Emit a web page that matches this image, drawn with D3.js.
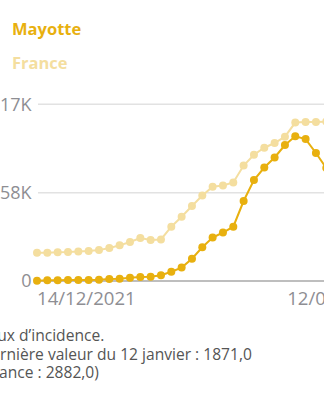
<!DOCTYPE html>
<html>
<head>
<meta charset="utf-8">
<script src="https://cdn.jsdelivr.net/npm/d3@7"></script>
<style>
  html, body { margin: 0; padding: 0; background: #fff; overflow: hidden; }
  svg { display: block; font-family: "Open Sans", "Noto Sans", sans-serif; }
</style>
</head>
<body>
<svg id="chart" width="324" height="400"></svg>
<script>
// ---- data ----
const dates = [
  "2021-12-14","2021-12-15","2021-12-16","2021-12-17","2021-12-18","2021-12-19","2021-12-20",
  "2021-12-21","2021-12-22","2021-12-23","2021-12-24","2021-12-25","2021-12-26","2021-12-27",
  "2021-12-28","2021-12-29","2021-12-30","2021-12-31","2022-01-01","2022-01-02","2022-01-03",
  "2022-01-04","2022-01-05","2022-01-06","2022-01-07","2022-01-08","2022-01-09","2022-01-10",
  "2022-01-11","2022-01-12"
];
const mayotte = [5, 13, 13, 18, 18, 18, 23, 36, 41, 59, 72, 77, 102, 167, 240, 400, 606, 780, 870, 974,
  1435, 1812, 2036, 2216, 2440, 2596, 2547, 2296, 2027, 1871];
const france = [508, 508, 515, 520, 530, 538, 555, 590, 640, 700, 770, 735, 745, 974, 1154, 1346, 1534,
  1692, 1713, 1767, 2072, 2266, 2391, 2476, 2589, 2843, 2852, 2852, 2860, 2882];
const seriesNames = ["Mayotte", "France"];
const yTickValues = [0, 1585.1, 3170.2];
const yTickLabels = ["0", "1,58K", "3,17K"];
const xTickDates = ["2021-12-14", "2022-01-12"];
const xTickLabels = ["14/12/2021", "12/01/2022"];
const captionLines = ["Taux d’incidence.", "Dernière valeur du 12 janvier : 1871,0", "(France : 2882,0)"];

// ---- setup ----
const colors = { Mayotte: "#E8B00F", France: "#F4DE9F" };
const svg = d3.select("#chart");
const parse = d3.timeParse("%Y-%m-%d");
const dts = dates.map(parse);

const x = d3.scaleTime()
  .domain([dts[0], dts[dts.length - 1]])
  .range([37, 336.6]);
const y = d3.scaleLinear()
  .domain([0, 3170.2])
  .range([281, 104.3]);

// legend
svg.append("text").attr("x", 12).attr("y", 35)
  .attr("fill", colors.Mayotte).attr("font-size", 16.5).attr("font-weight", 700)
  .text(seriesNames[0]);
svg.append("text").attr("x", 12).attr("y", 68.5)
  .attr("fill", colors.France).attr("font-size", 16.5).attr("font-weight", 700)
  .text(seriesNames[1]);

// gridlines
const gridG = svg.append("g");
yTickValues.forEach((v, i) => {
  gridG.append("line")
    .attr("x1", 38).attr("x2", 400)
    .attr("y1", y(v)).attr("y2", y(v))
    .attr("stroke", i === 0 ? "#a8a8a8" : "#e2e2e2")
    .attr("stroke-width", 1.5);
  gridG.append("text")
    .attr("x", 31.5).attr("y", y(v)).attr("dy", "0.35em")
    .attr("text-anchor", "end")
    .attr("fill", "#8e8e93").attr("font-size", 18)
    .text(yTickLabels[i]);
});

// x tick labels
xTickDates.forEach((d, i) => {
  const px = x(parse(d));
  svg.append("text")
    .attr("x", i === 0 ? 37 : px)
    .attr("y", 305)
    .attr("text-anchor", i === 0 ? "start" : "middle")
    .attr("fill", "#8e8e93").attr("font-size", 18.6)
    .text(xTickLabels[i]);
});

// series
const line = d3.line().x((d, i) => x(dts[i])).y(d => y(d));
[["France", france], ["Mayotte", mayotte]].forEach(([name, vals]) => {
  const g = svg.append("g");
  g.append("path").datum(vals)
    .attr("fill", "none").attr("stroke", colors[name]).attr("stroke-width", 2)
    .attr("d", line);
  g.selectAll("circle").data(vals).join("circle")
    .attr("cx", (d, i) => x(dts[i])).attr("cy", d => y(d))
    .attr("r", 4).attr("fill", colors[name]);
});

// caption
captionLines.forEach((t, i) => {
  svg.append("text")
    .attr("x", -20).attr("y", 341 + i * 18.7)
    .attr("fill", "#555").attr("font-size", 15.6)
    .text(t);
});
</script>
</body>
</html>
